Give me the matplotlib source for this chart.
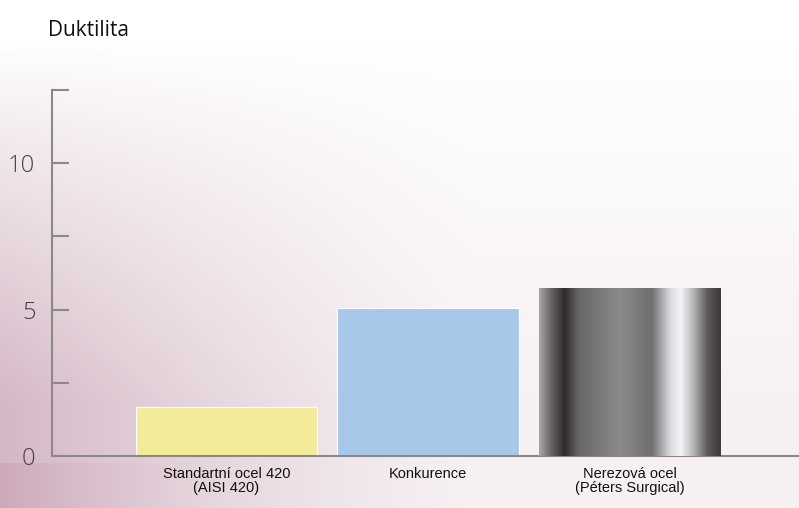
import numpy as np
import matplotlib.pyplot as plt
from matplotlib.colors import LinearSegmentedColormap

# data
categories = ['Standartní ocel 420\n(AISI 420)', 'Konkurence', 'Nerezová ocel\n(Péters Surgical)']
values = [1.68, 5.07, 5.72]
bar_colors = ['#f3ea9a', '#a8c8ea', None]
yticks_major = [0, 5, 10]
yticks_all = [0, 2.5, 5, 7.5, 10, 12.5]

fig = plt.figure(figsize=(7.99, 5.08), dpi=100)

# pink background, strongest bottom-left, fading to white top and right
bg = fig.add_axes([0, 0, 1, 1], zorder=-10)
px, py = np.meshgrid(np.arange(799), np.arange(508))
fy = np.clip((py - 45) / 360.0, 0, 1) ** 0.9
fx = np.clip(1 - px / 480.0, 0, 1) ** 1.3
s = fy * (0.2 + 0.8 * fx)
# darker band below the x axis on the far left
s = np.where(py > 462, s * (1 + 0.2 * np.clip(1 - px / 200.0, 0, 1)), s)
pink = np.array([0.835, 0.72, 0.775])
img = 1 - np.clip(s, 0, 1.2)[..., None] * (1 - pink)
bg.imshow(np.clip(img, 0, 1), aspect='auto', extent=[0, 1, 0, 1], origin='upper')
bg.axis('off')

ax = fig.add_axes([52 / 799, 52 / 508, 747 / 799, 366 / 508])
ax.patch.set_alpha(0)
x = np.arange(len(categories))
width = 0.9
bars = ax.bar(x, values, width=width, color=[c if c else 'none' for c in bar_colors],
              edgecolor='white', linewidth=0.8, zorder=2)

# steel cylinder look for the last bar
cmap = LinearSegmentedColormap.from_list('steel', [
    (0.0, '#a8a6a6'), (0.06, '#6e6a6a'), (0.14, '#2e2a2a'), (0.22, '#6a6767'),
    (0.45, '#8c8a8a'), (0.62, '#6f6d6d'), (0.72, '#d8d8dc'), (0.78, '#f4f4f8'),
    (0.84, '#c0bfc0'), (0.93, '#5a5757'), (1.0, '#3e3a38')])
grad = np.linspace(0, 1, 256)[None, :]
ax.imshow(grad, cmap=cmap, aspect='auto', zorder=3,
          extent=[x[2] - width / 2, x[2] + width / 2, 0, values[2]])

ax.set_xlim(-0.866, 2.841)
ax.set_ylim(0, 12.5)

for s_ in ['top', 'right']:
    ax.spines[s_].set_visible(False)
ax.spines['left'].set_color('#8a8a8a')
ax.spines['bottom'].set_color('#8a8a8a')
ax.spines['left'].set_linewidth(1.5)
ax.spines['bottom'].set_linewidth(1.5)
ax.spines['left'].set_zorder(5)

ax.set_yticks(yticks_all)
ax.set_yticklabels([str(v) if v in yticks_major else '' for v in yticks_all],
                   fontsize=17, color='#444444', family='Open Sans', fontweight='light')
ax.tick_params(axis='y', direction='in', length=12, width=1.5, color='#8a8a8a', pad=12)
ax.set_xticks(x)
ax.set_xticklabels(categories, fontsize=10.5, family='Liberation Sans', color='#111111',
                   linespacing=1.0)
ax.tick_params(axis='x', length=0, pad=8)

fig.text(48 / 799, 1 - 31 / 508, 'Duktilita', fontsize=15, family='Open Sans',
         va='center', ha='left', color='#111111')

fig.savefig('out.png', dpi=100)
